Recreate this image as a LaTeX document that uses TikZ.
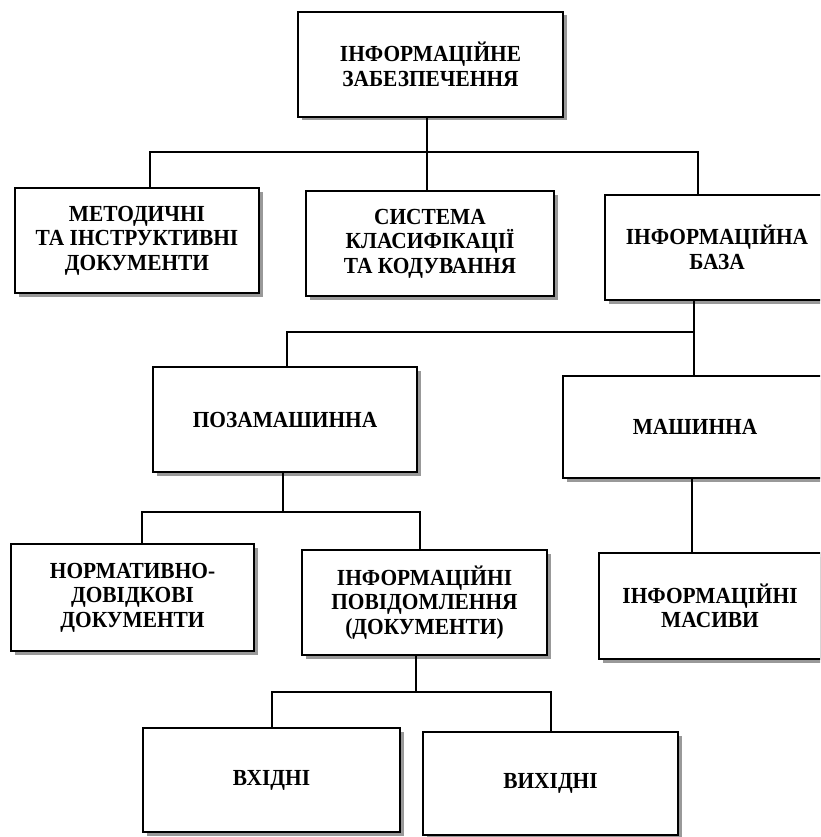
\documentclass[tikz,border=0pt]{standalone}
\usepackage{fontspec}
\setmainfont{Liberation Serif}[FakeStretch=0.93]
\usetikzlibrary{shadows}
\begin{document}
\begin{tikzpicture}[x=1pt,y=-1pt,
  box/.style={draw=black, line width=1.4pt, fill=white, inner sep=0pt, align=center,
    font=\fontsize{23}{24.5}\selectfont\bfseries,
    drop shadow={shadow xshift=3.5pt, shadow yshift=-3.5pt, fill=black!40, opacity=1}},
  conn/.style={line width=1.3pt, black}]
\clip (0,0) rectangle (820,837);
\fill[white] (0,0) rectangle (820,837);
% boxes
\node[box, minimum width=265pt, minimum height=105pt] (top) at (430.5,64.5) {ІНФОРМАЦІЙНЕ\\ЗАБЕЗПЕЧЕННЯ};
\node[box, minimum width=244pt, minimum height=105pt] (m1) at (137,240.5) {МЕТОДИЧНІ\\ТА ІНСТРУКТИВНІ\\ДОКУМЕНТИ};
\node[box, minimum width=248pt, minimum height=105pt] (m2) at (430,243.5) {СИСТЕМА\\КЛАСИФІКАЦІЇ\\ТА КОДУВАННЯ};
\node[box, minimum width=224pt, minimum height=105pt] (m3) at (717,247.5) {ІНФОРМАЦІЙНА\\БАЗА};
\node[box, minimum width=264pt, minimum height=105pt] (poza) at (285,419.5) {ПОЗАМАШИННА};
\node[box, minimum width=264pt, minimum height=102pt] (mash) at (695,427) {МАШИННА};
\node[box, minimum width=243pt, minimum height=107pt] (norm) at (132.5,597.5) {НОРМАТИВНО-\\ДОВІДКОВІ\\ДОКУМЕНТИ};
\node[box, minimum width=245pt, minimum height=105pt] (msgs) at (424.5,602.5) {ІНФОРМАЦІЙНІ\\ПОВІДОМЛЕННЯ\\(ДОКУМЕНТИ)};
\node[box, minimum width=222pt, minimum height=106pt] (masyvy) at (710,606) {ІНФОРМАЦІЙНІ\\МАСИВИ};
\node[box, minimum width=257pt, minimum height=104pt] (vkh) at (271.5,780) {ВХІДНІ};
\node[box, minimum width=255pt, minimum height=103pt] (vykh) at (550.5,783.5) {ВИХІДНІ};
% junctions
\coordinate (j1) at (427,152);
\coordinate (j2) at (694,332);
\coordinate (j3) at (283,512);
\coordinate (j4) at (416,692);
% connectors
\draw[conn] (top.south -| j1) -- (j1) -| (m1.north -| 150,0);
\draw[conn] (j1) -- (m2.north -| j1);
\draw[conn] (j1) -| (m3.north -| 698,0);
\draw[conn] (m3.south -| j2) -- (j2) -| (poza.north -| 287,0);
\draw[conn] (j2) -- (mash.north -| j2);
\draw[conn] (poza.south -| j3) -- (j3) -| (norm.north -| 142,0);
\draw[conn] (j3) -| (msgs.north -| 420,0);
\draw[conn] (mash.south -| 692,0) -- (masyvy.north -| 692,0);
\draw[conn] (msgs.south -| j4) -- (j4) -| (vkh.north -| 272,0);
\draw[conn] (j4) -| (vykh.north -| 551,0);
\end{tikzpicture}
\end{document}
